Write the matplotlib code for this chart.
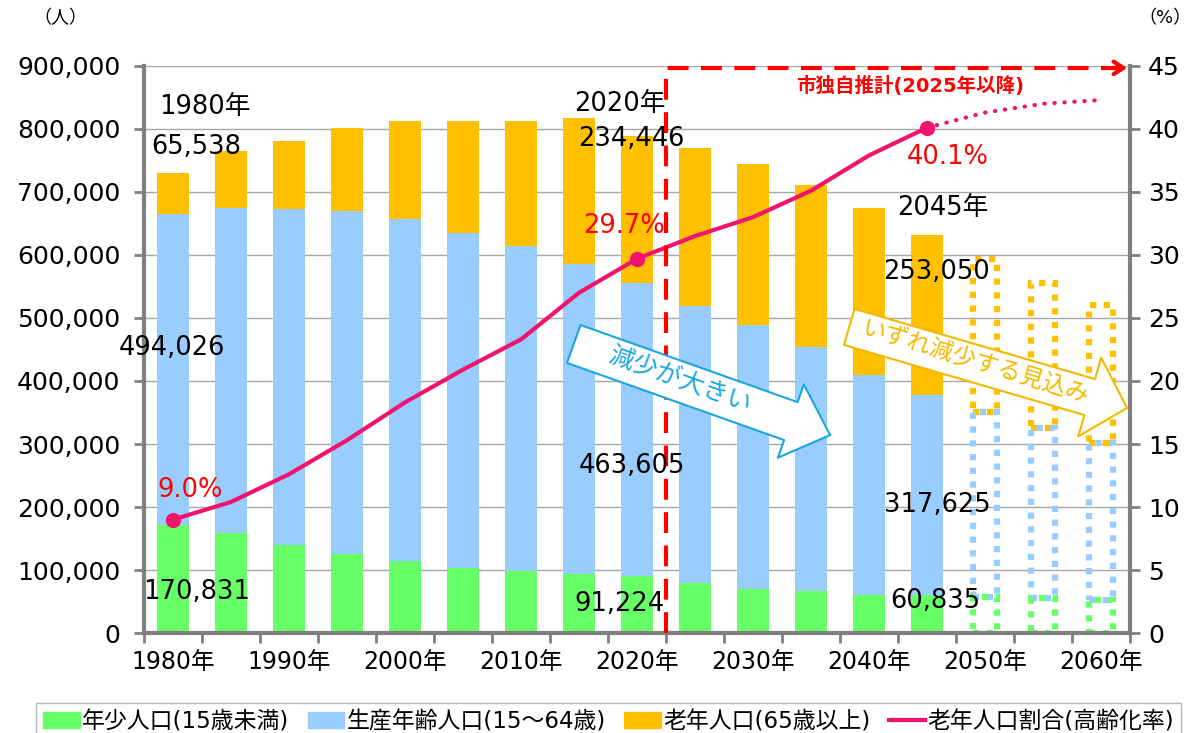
"""
    人口の推移と将来推計（年齢3区分別・高齢化率）
"""
import matplotlib.pyplot as plt
from matplotlib.patches import Patch, FancyArrowPatch
from matplotlib.lines import Line2D
from matplotlib.ticker import FuncFormatter

plt.rcParams['font.family'] = ['DejaVu Sans', 'Noto Sans CJK JP']

# データ（1980年～2060年、5年ごと）
years = [1980, 1985, 1990, 1995, 2000, 2005, 2010, 2015, 2020,
         2025, 2030, 2035, 2040, 2045, 2050, 2055, 2060]
young = [170831, 158000, 140000, 125000, 114000, 103000, 98000, 93000, 91224,
         79000, 70000, 67000, 60000, 60835, 57000, 56000, 52000]
working = [494026, 516000, 533000, 545000, 543000, 532000, 516000, 493000, 463605,
           440000, 419000, 387000, 350000, 317625, 294000, 269000, 249000]
old = [65538, 91000, 108000, 132000, 156000, 178000, 199000, 231000, 234446,
       251000, 255000, 257000, 265000, 253050, 242000, 231000, 219000]
ratio = [9.0, 10.4, 12.6, 15.3, 18.3, 20.9, 23.3, 27.0, 29.7,
         31.5, 33.0, 35.1, 37.9, 40.1, 41.3, 42.0, 42.3]
n_solid = 14  # 2045年まで通常の棒、それ以降は点線

c_young = '#66FF66'
c_work = '#99CCFF'
c_old = '#FFC000'
c_line = '#F0146E'
c_red = '#FF0000'
c_gray = '#808080'
c_blue = '#1AA7E0'
c_orange = '#F5B800'

fig = plt.figure(figsize=(11.98, 7.33), dpi=100)
ax = fig.add_axes([0.1202, 0.1364, 0.8230, 0.7736])

x = list(range(len(years)))
xs = x[:n_solid]
xd = x[n_solid:]
top2 = [a + b for a, b in zip(young, working)]

# 棒グラフ
ax.bar(xs, young[:n_solid], width=0.55, color=c_young, zorder=2)
ax.bar(xs, working[:n_solid], bottom=young[:n_solid], width=0.55, color=c_work, zorder=2)
ax.bar(xs, old[:n_solid], bottom=top2[:n_solid], width=0.55, color=c_old, zorder=2)

# 点線の棒（推計の先）
dots = (0, (1, 1.2))
ax.bar(xd, old[n_solid:], bottom=top2[n_solid:], width=0.42, fill=False,
       edgecolor=c_old, linewidth=4.5, linestyle=dots, zorder=2)
ax.bar(xd, working[n_solid:], bottom=young[n_solid:], width=0.42, fill=False,
       edgecolor=c_work, linewidth=4.5, linestyle=dots, zorder=2)
ax.bar(xd, young[n_solid:], width=0.42, fill=False,
       edgecolor=c_young, linewidth=4.5, linestyle=dots, zorder=2)

ax.set_xlim(-0.5, len(years) - 0.5)
ax.set_ylim(0, 900000)
ax.set_yticks(range(0, 900001, 100000))
ax.yaxis.set_major_formatter(FuncFormatter(lambda v, p: f'{int(v):,}'))
ax.yaxis.grid(True, color='#A6A6A6', lw=1)
ax.set_axisbelow(True)
ax.set_xticks(x[::2])
ax.set_xticklabels([f'{y}年' for y in years[::2]], fontsize=17)
ax.set_xticks([i - 0.5 for i in range(len(years) + 1)], minor=True)
ax.tick_params(axis='x', which='major', length=0, pad=12)
ax.tick_params(axis='x', which='minor', length=7, width=2, color=c_gray)
ax.tick_params(axis='y', length=7, width=2, color=c_gray, labelsize=18, pad=10)
ax.spines['top'].set_visible(False)
for s in ['left', 'bottom', 'right']:
    ax.spines[s].set_color(c_gray)
    ax.spines[s].set_linewidth(3)

# 高齢化率（右軸）
ax2 = ax.twinx()
ax2.set_ylim(0, 45)
ax2.set_yticks(range(0, 46, 5))
ax2.tick_params(axis='y', length=7, width=2, color=c_gray, labelsize=18, pad=6)
for s in ax2.spines.values():
    s.set_visible(False)
ax2.plot(xs, ratio[:n_solid], color=c_line, lw=3, zorder=4)
ax2.plot(x[n_solid - 1:], ratio[n_solid - 1:], color=c_line, lw=3,
         linestyle=(0, (0.1, 2.3)), dash_capstyle='round', zorder=4)
mk = [0, 8, 13]
ax2.plot(mk, [ratio[i] for i in mk], 'o', ms=10, color=c_line, zorder=5)

# 市独自推計の枠
ax2.plot([8.5, 8.5, 16.35], [0, 44.85, 44.85], color=c_red, lw=3,
         linestyle=(0, (5, 3)), zorder=6, clip_on=False)
ax2.annotate('', xy=(16.5, 44.85), xytext=(16.2, 44.85),
             arrowprops=dict(arrowstyle='->,head_length=0.7,head_width=0.45',
                             color=c_red, lw=3), annotation_clip=False, zorder=6)
ax2.text(12.71, 43.4, '市独自推計(2025年以降)', color=c_red, fontsize=14,
         fontweight='bold', ha='center', va='center')

# データラベル
fs = 18.5
labels = [
    (0.55, 835000, '1980年'), (0.40, 771000, f'{old[0]:,}'),
    (-0.02, 452000, f'{working[0]:,}'), (0.40, 65000, f'{young[0]:,}'),
    (7.71, 840000, '2020年'), (7.91, 784000, f'{old[8]:,}'),
    (7.91, 265000, f'{working[8]:,}'), (7.69, 46000, f'{young[8]:,}'),
    (13.28, 674000, '2045年'), (13.17, 573000, f'{old[13]:,}'),
    (13.17, 203000, f'{working[13]:,}'), (13.14, 51000, f'{young[13]:,}'),
]
for lx, ly, t in labels:
    ax2.text(lx, ly / 20000, t, fontsize=fs, ha='center', va='center', zorder=7)
for i, (lx, ly) in zip(mk, [(0.29, 11.35), (7.78, 32.3), (13.36, 37.75)]):
    ax2.text(lx, ly, f'{ratio[i]:.1f}%', color=c_red, fontsize=fs,
             ha='center', va='center', zorder=7)

# 矢印
arr_b = FancyArrowPatch((6.91, 22.94), (11.33, 15.71), mutation_scale=1,
                        arrowstyle='simple,head_length=30,head_width=56,tail_width=29',
                        fc='white', ec=c_blue, lw=1.5, shrinkA=0, shrinkB=0, zorder=8)
ax2.add_patch(arr_b)
ax2.text(8.74, 20.1, '減少が大きい', color=c_blue, fontsize=18, rotation=-20,
         rotation_mode='anchor', ha='center', va='center', zorder=9)
arr_o = FancyArrowPatch((11.66, 24.29), (16.45, 17.86), mutation_scale=1,
                        arrowstyle='simple,head_length=28,head_width=59,tail_width=27',
                        fc='white', ec=c_orange, lw=1.5, shrinkA=0, shrinkB=0,
                        zorder=8, clip_on=False)
ax2.add_patch(arr_o)
ax2.text(13.83, 21.5, 'いずれ減少する見込み', color=c_orange, fontsize=17, rotation=-17,
         rotation_mode='anchor', ha='center', va='center', zorder=9)

fig.text(60 / 1198, 1 - 18 / 733, '（人）', fontsize=13, ha='center', va='center')
fig.text(1165 / 1198, 1 - 18 / 733, '（%）', fontsize=13, ha='center', va='center')

# 凡例
handles = [Patch(color=c_young), Patch(color=c_work), Patch(color=c_old),
           Line2D([], [], color=c_line, lw=3)]
names = ['年少人口(15歳未満)', '生産年齢人口(15～64歳)', '老年人口(65歳以上)', '老年人口割合(高齢化率)']
fig.legend(handles, names, loc='upper center', bbox_to_anchor=(0.508, 1 - 692 / 733),
           ncol=4, fontsize=16.5, fancybox=False, edgecolor='#A6A6A6',
           handlelength=1.6, handleheight=0.7, handletextpad=0.1,
           columnspacing=0.8, borderpad=0.3)

plt.savefig('out.png')
